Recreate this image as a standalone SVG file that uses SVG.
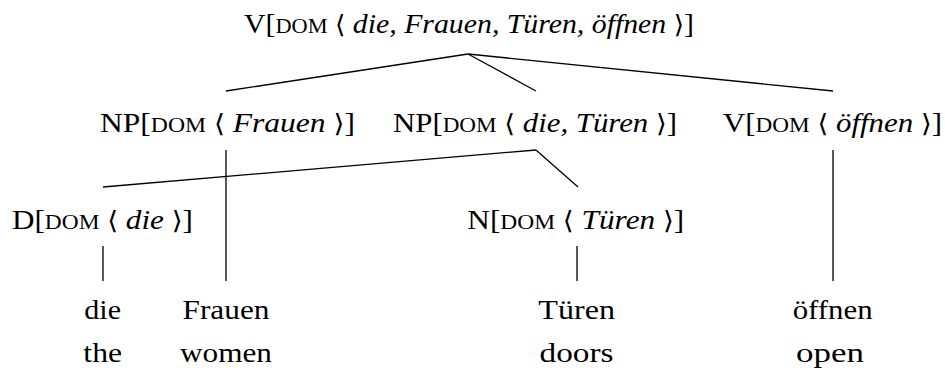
<svg xmlns="http://www.w3.org/2000/svg" width="945" height="368" viewBox="0 0 945 368">
<style>
text{font-family:"Liberation Serif","DejaVu Serif",serif;font-size:28px;fill:#000;text-anchor:middle}
.sc{font-size:21px}
.it{font-style:italic}
.br{font-family:"DejaVu Serif","Liberation Serif",serif;font-size:25px}
#edges line{stroke:#000;stroke-width:1.3;stroke-linecap:butt}
</style>
<rect width="945" height="368" fill="#fff"/>
<g id="edges">
<line x1="468" y1="54" x2="226" y2="91"/>
<line x1="468" y1="54" x2="536" y2="91"/>
<line x1="468" y1="54" x2="833" y2="91"/>
<line x1="536" y1="150" x2="103" y2="187"/>
<line x1="536" y1="150" x2="578" y2="187"/>
<line x1="226" y1="150" x2="226" y2="281"/>
<line x1="833" y1="150" x2="833" y2="281"/>
<line x1="103" y1="246" x2="103" y2="281"/>
<line x1="577" y1="246" x2="577" y2="281"/>
</g>
<g id="root">
<text x="469" y="33" textLength="450" lengthAdjust="spacingAndGlyphs">V[<tspan class="sc">DOM</tspan> <tspan class="br">⟨</tspan> <tspan class="it">die, Frauen, Türen, öffnen</tspan> <tspan class="br">⟩</tspan>]</text>
</g>
<g id="np1">
<text x="227.5" y="131.5" textLength="255" lengthAdjust="spacingAndGlyphs">NP[<tspan class="sc">DOM</tspan> <tspan class="br">⟨</tspan> <tspan class="it">Frauen</tspan> <tspan class="br">⟩</tspan>]</text>
</g>
<g id="np2">
<text x="535" y="131.5" textLength="284" lengthAdjust="spacingAndGlyphs">NP[<tspan class="sc">DOM</tspan> <tspan class="br">⟨</tspan> <tspan class="it">die, Türen</tspan> <tspan class="br">⟩</tspan>]</text>
</g>
<g id="v">
<text x="832.5" y="131.5" textLength="219" lengthAdjust="spacingAndGlyphs">V[<tspan class="sc">DOM</tspan> <tspan class="br">⟨</tspan> <tspan class="it">öffnen</tspan> <tspan class="br">⟩</tspan>]</text>
</g>
<g id="d">
<text x="102.5" y="228.5" textLength="181" lengthAdjust="spacingAndGlyphs">D[<tspan class="sc">DOM</tspan> <tspan class="br">⟨</tspan> <tspan class="it">die</tspan> <tspan class="br">⟩</tspan>]</text>
</g>
<g id="n">
<text x="575.8" y="228.5" textLength="217" lengthAdjust="spacingAndGlyphs">N[<tspan class="sc">DOM</tspan> <tspan class="br">⟨</tspan> <tspan class="it">Türen</tspan> <tspan class="br">⟩</tspan>]</text>
</g>
<g id="w-die">
<text x="102.7" y="318.5" textLength="36.7" lengthAdjust="spacingAndGlyphs">die</text>
<text x="102.7" y="362" textLength="38.7" lengthAdjust="spacingAndGlyphs">the</text>
</g>
<g id="w-frauen">
<text x="226" y="318.5" textLength="87" lengthAdjust="spacingAndGlyphs">Frauen</text>
<text x="226" y="362" textLength="92" lengthAdjust="spacingAndGlyphs">women</text>
</g>
<g id="w-tueren">
<text x="576.7" y="318.5" textLength="76.7" lengthAdjust="spacingAndGlyphs">Türen</text>
<text x="576.5" y="362" textLength="74" lengthAdjust="spacingAndGlyphs">doors</text>
</g>
<g id="w-oeffnen">
<text x="832.7" y="318.5" textLength="80" lengthAdjust="spacingAndGlyphs">öffnen</text>
<text x="830" y="362" textLength="68" lengthAdjust="spacingAndGlyphs">open</text>
</g>
</svg>
